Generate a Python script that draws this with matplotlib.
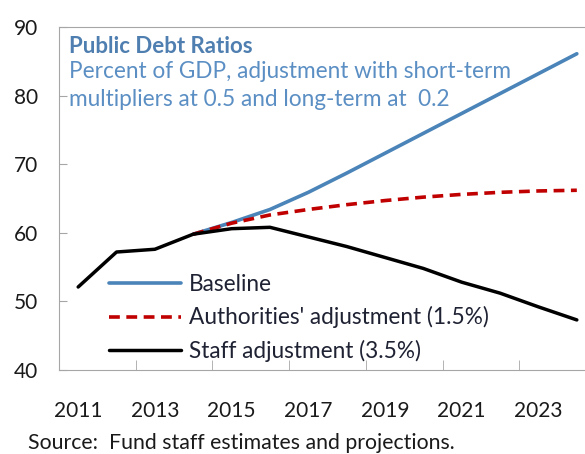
import numpy as np
import matplotlib.pyplot as plt

plt.rcParams['font.family'] = ['Lato', 'DejaVu Sans']

years = np.arange(2011, 2025)
# percent of GDP
staff = [52.1, 57.2, 57.6, 59.8, 60.6, 60.8, 59.4, 58.0, 56.4, 54.8, 52.8, 51.2, 49.2, 47.3]
baseline = [np.nan, np.nan, np.nan, 59.8, 61.5, 63.4, 65.9, 68.7, 71.6, 74.5, 77.4, 80.3, 83.2, 86.1]
authorities = [np.nan, np.nan, np.nan, 59.8, 61.4, 62.6, 63.4, 64.1, 64.7, 65.2, 65.6, 65.9, 66.1, 66.2]

label_years = [2011, 2013, 2015, 2017, 2019, 2021, 2023]
edge_ticks = [2012.5, 2014.5, 2016.5, 2018.5, 2020.5, 2022.5, 2024.5]

blue = '#4a84b8'
red = '#c00000'
grey = '#a6a6a6'

fig = plt.figure(figsize=(5.85, 4.54), dpi=100)
ax = fig.add_axes([59/585, 84/454, 537/585, 343/454])

ax.plot(years, baseline, color=blue, lw=2.6, solid_capstyle='round', label='Baseline')
ax.plot(years, authorities, color=red, lw=2.6, dashes=(3.0, 1.8),
        label="Authorities' adjustment (1.5%)")
ax.plot(years, staff, color='black', lw=2.5, solid_capstyle='round',
        label='Staff adjustment (3.5%)')

ax.set_xlim(2010.5, 2024.5)
ax.set_ylim(40, 90)
ax.set_yticks([40, 50, 60, 70, 80, 90])
ax.set_xticks(label_years)
ax.set_xticks(edge_ticks, minor=True)
ax.tick_params(axis='x', which='major', length=0, pad=22, labelsize=15, labelcolor='#1a1a1a')
ax.tick_params(axis='x', which='minor', direction='in', length=7, color=grey)
ax.tick_params(axis='y', direction='in', length=6, color=grey, pad=15,
               labelsize=15, labelcolor='#1a1a1a')
for s in ['left', 'bottom', 'top']:
    ax.spines[s].set_color(grey)
ax.spines['right'].set_visible(False)

ax.text(0.018, 0.975, 'Public Debt Ratios', transform=ax.transAxes,
        fontsize=16, fontweight='bold', color='#4f7fb0', va='top')
ax.text(0.018, 0.902, 'Percent of GDP, adjustment with short-term\nmultipliers at 0.5 and long-term at  0.2',
        transform=ax.transAxes, fontsize=16.3, color='#5b8fc4', va='top', linespacing=1.45)

ax.legend(loc='lower left', bbox_to_anchor=(0.055, -0.037), frameon=False,
          fontsize=16.3, handlelength=3.2, handletextpad=0.35, labelspacing=0.52,
          labelcolor='#1f2233')

fig.text(28/585, 1 - 443/454, 'Source:  Fund staff estimates and projections.',
         fontsize=15.3, color='#1a1a1a', va='center')

fig.savefig('out.png', dpi=100)
